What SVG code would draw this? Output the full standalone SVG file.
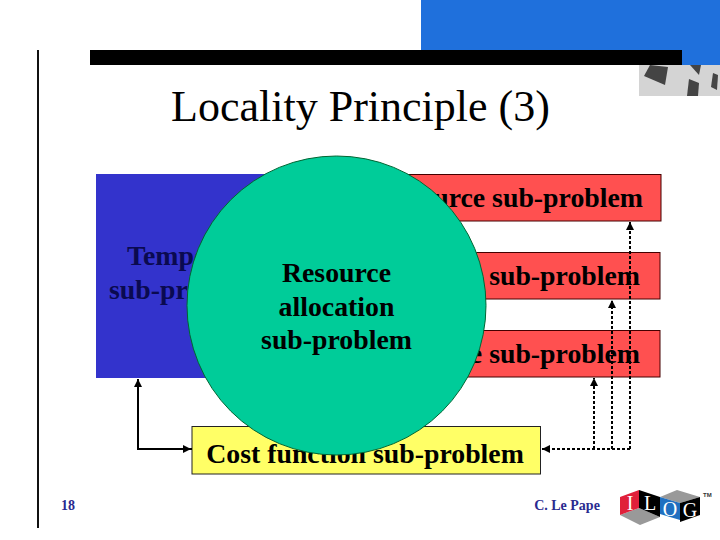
<svg xmlns="http://www.w3.org/2000/svg" width="720" height="540" viewBox="0 0 720 540">
<style>
.t{font-family:"Liberation Serif","Times New Roman",serif;fill:#000}
.b{font-weight:bold;font-size:27.8px;text-anchor:middle}
.r{fill:#ff5050;stroke:#400;stroke-width:1}
.s{fill:none;stroke:#000;stroke-width:2}
.d{fill:none;stroke:#000;stroke-width:2;stroke-dasharray:3 2}
.w{fill:#444}
.g{fill:#999}
.k{fill:#000}
.l{font-family:"Liberation Serif",serif;font-size:20px;text-anchor:middle}
</style>
<defs>
<marker id="a" markerWidth="10" markerHeight="10" refX="8" refY="4" orient="auto" markerUnits="userSpaceOnUse"><path d="M0 0L8 4L0 8Z" fill="#000"/></marker>
</defs>
<rect width="720" height="540" fill="#fff"/>
<g id="decor">
<rect x="421" y="0" width="299" height="65" fill="#1f70dc"/>
<rect x="639" y="65" width="81" height="31" fill="#d4d4d4"/>
<path class="w" d="M650 65L668 67L665 85L644 76Z"/>
<path class="w" d="M690 65L701 65L699 75Z"/>
<path class="w" d="M689 79L699 83L698 96L687 96Z"/>
<path class="w" d="M713 73L718 75L717 90L711 87Z"/>
<rect x="90" y="50" width="592" height="15" fill="#000"/>
<rect x="37" y="50" width="2" height="478" fill="#111"/>
</g>
<text class="t" x="360.5" y="121" font-size="44" text-anchor="middle">Locality Principle (3)</text>
<g id="temporal">
<rect x="96" y="174" width="240" height="204" fill="#3333cc"/>
<text class="t b" x="127" y="265" style="text-anchor:start;fill:#0a0a50">Temporal</text>
<text class="t b" x="109" y="299" style="text-anchor:start;fill:#0a0a50">sub-problem</text>
</g>
<g id="resource">
<rect class="r" x="336" y="174.500" width="325" height="46.500"/>
<text class="t b" x="643" y="207" style="text-anchor:end">Resource sub-problem</text>
</g>
<g id="middle">
<rect class="r" x="336" y="252.500" width="324" height="46.500"/>
<text class="t b" x="640" y="285" style="text-anchor:end">sub-problem</text>
</g>
<g id="lower">
<rect class="r" x="336" y="330.500" width="324" height="46.500"/>
<text class="t b" x="640" y="363" style="text-anchor:end">e sub-problem</text>
</g>
<g id="cost">
<rect x="192" y="426.500" width="348.500" height="47.500" fill="#ffff66" stroke="#222"/>
<text class="t b" x="365" y="463">Cost function sub-problem</text>
</g>
<g id="connectors">
<path class="s" d="M192 449H138V379" marker-end="url(#a)"/>
<path class="s" d="M138 449H191" marker-end="url(#a)"/>
<path class="d" d="M630 449H542" marker-end="url(#a)"/>
<path class="d" d="M594 449V378" marker-end="url(#a)"/>
<path class="d" d="M612 449V300" marker-end="url(#a)"/>
<path class="d" d="M630 449V222" marker-end="url(#a)"/>
</g>
<g id="allocation">
<circle cx="336.500" cy="305.500" r="149.500" fill="#00cc99" stroke="#063"/>
<text class="t b" x="336.500" y="282">Resource</text>
<text class="t b" x="336.500" y="316">allocation</text>
<text class="t b" x="336.500" y="349">sub-problem</text>
</g>
<text x="68" y="510" font-size="14" font-weight="bold" font-family="Liberation Serif,serif" fill="#2a2a90" text-anchor="middle">18</text>
<text x="567" y="510" font-size="14" font-weight="bold" font-family="Liberation Serif,serif" fill="#2a2a90" text-anchor="middle">C. Le Pape</text>
<g id="logo">
<path class="g" d="M620 515L639 508L660 517L640 525Z"/>
<path d="M620 497L639 490V508L620 515Z" fill="#e0203a"/>
<path class="k" d="M639 490L660 497V517L639 508Z"/>
<path class="g" d="M660 497L677 490L700 497L680 503Z"/>
<path d="M660 497L680 503V520L660 514Z" fill="#1f6fc0"/>
<path class="k" d="M680 503L700 497V515L680 522Z"/>
<text class="l" x="630" y="510" fill="#fff">I</text>
<text class="l" x="650" y="510" fill="#fff">L</text>
<text class="l" x="670" y="516" fill="#fff">O</text>
<text class="l" x="690" y="517" fill="#fff">G</text>
<text x="703" y="497" font-size="6" font-weight="bold" font-family="Liberation Sans,sans-serif" fill="#333">TM</text>
</g>
</svg>
